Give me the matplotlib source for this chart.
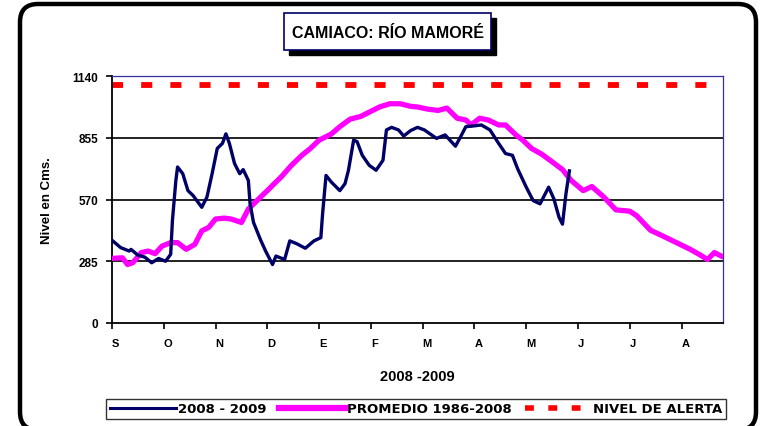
import matplotlib
matplotlib.use("Agg")
import matplotlib.pyplot as plt
from matplotlib.patches import Rectangle, FancyBboxPatch
from matplotlib.lines import Line2D

# datos (dia desde 1 de septiembre, nivel en cm)
dias_0809 = [0, 5, 10, 11, 15, 19, 23, 27, 31, 34, 35, 37, 38, 41, 44, 47, 52, 55,
             58, 61, 64, 66, 68, 71, 74, 76, 79, 80, 82, 86, 89, 93, 95, 100, 103,
             107, 112, 117, 121, 122, 124, 127, 132, 135, 137, 140, 142, 145, 149,
             153, 157, 159, 162, 166, 169, 173, 177, 181, 188, 193, 199, 202, 205,
             210, 214, 219, 224, 228, 232, 235, 240, 244, 248, 253, 256, 259, 261,
             263, 265]
nivel_0809 = [382, 348, 332, 340, 313, 304, 278, 298, 285, 317, 472, 658, 720, 689,
              611, 588, 534, 581, 689, 806, 829, 873, 829, 736, 689, 708, 658, 550,
              464, 385, 332, 270, 309, 293, 379, 366, 345, 379, 394, 503, 681, 651,
              611, 643, 705, 844, 837, 774, 728, 705, 751, 891, 903, 891, 863, 888,
              903, 891, 852, 868, 816, 860, 906, 910, 914, 891, 829, 782, 774, 712,
              627, 565, 550, 627, 573, 488, 456, 596, 702]

dias_prom = [0, 6, 9, 12, 17, 21, 25, 29, 34, 38, 43, 48, 52, 56, 60, 65, 69, 75,
             79, 83, 88, 90, 94, 98, 104, 110, 115, 120, 127, 132, 138, 144, 150,
             155, 161, 167, 173, 177, 183, 189, 194, 200, 205, 208, 213, 218, 224,
             228, 234, 238, 243, 249, 255, 261, 266, 273, 278, 285, 292, 300, 304,
             312, 319, 327, 335, 341, 345, 349, 353]
nivel_prom = [298, 301, 270, 278, 325, 332, 320, 355, 371, 371, 340, 363, 425, 441,
              480, 484, 480, 464, 526, 557, 596, 611, 643, 674, 728, 774, 806, 844,
              872, 906, 941, 953, 977, 997, 1012, 1012, 1000, 997, 987, 981, 992,
              945, 937, 914, 945, 937, 914, 914, 868, 844, 806, 779, 744, 708, 658,
              611, 630, 581, 522, 516, 495, 428, 402, 371, 340, 313, 293, 325, 309]

nivel_alerta = 1100

meses = ["S", "O", "N", "D", "E", "F", "M", "A", "M", "J", "J", "A"]
y_ticks = [0, 285, 570, 855, 1140]

navy = "#000066"
magenta = "#ff00ff"
rojo = "#ff0000"
plt.rcParams["font.family"] = ["Liberation Sans", "DejaVu Sans"]

fig = plt.figure(figsize=(7.65, 4.27), dpi=100)
ax = fig.add_axes([112 / 765, 1 - 324 / 427, 611 / 765, 247 / 427])

# borde redondeado exterior
borde = FancyBboxPatch((20, -4), 736, 426, boxstyle="round,pad=0,rounding_size=18",
                       transform=None, fill=False, ec="black", lw=3.2, zorder=10)
fig.patches.append(borde)

for t in y_ticks[1:-1]:
    ax.axhline(t, color="#222222", lw=1.4, zorder=1)

ax.plot([dias_prom[0], dias_prom[-1]], [nivel_alerta, nivel_alerta], color=rojo,
        lw=4.2, dashes=(1.9, 3.1), solid_capstyle="butt", dash_capstyle="butt", zorder=2)
ax.plot(dias_prom, nivel_prom, color=magenta, lw=3.8, zorder=3,
        solid_joinstyle="round")
ax.plot(dias_0809, nivel_0809, color=navy, lw=2.4, zorder=4,
        solid_joinstyle="round")

ax.set_xlim(0, 354)
ax.set_ylim(0, 1140)
ax.set_yticks(y_ticks)
ax.set_yticklabels([str(v) for v in y_ticks], fontsize=8.5, fontweight="bold")
ax.set_xticks([30 * i for i in range(len(meses))])
ax.set_xticklabels(meses, fontsize=8, fontweight="bold", ha="left")
ax.tick_params(axis="x", length=4, width=1.2, pad=7)
ax.tick_params(axis="y", length=4, width=1.2, pad=6)
for s in ["left", "bottom"]:
    ax.spines[s].set_color("black")
    ax.spines[s].set_linewidth(1.3)
for s in ["top", "right"]:
    ax.spines[s].set_color("#333399")
    ax.spines[s].set_linewidth(0.9)

ax.set_ylabel("Nivel en Cms.", fontsize=9.5, fontweight="bold", labelpad=14)
ax.set_xlabel("2008 -2009", fontsize=10.5, fontweight="bold", labelpad=15)

# titulo en recuadro con sombra
fig.patches.append(Rectangle((289 / 765, 1 - 56 / 427), 207 / 765, 37 / 427,
                             transform=fig.transFigure, color="black", zorder=5))
fig.patches.append(Rectangle((284 / 765, 1 - 51 / 427), 207 / 765, 37 / 427,
                             transform=fig.transFigure, fc="white", ec=navy,
                             lw=1.2, zorder=6))
fig.text(387.5 / 765, 1 - 33 / 427, "CAMIACO: RÍO MAMORÉ", ha="center", va="center",
         fontsize=11.5, fontweight="bold", zorder=7)

handles = [Line2D([], [], color=navy, lw=2.2),
           Line2D([], [], color=magenta, lw=4.5),
           Line2D([], [], color=rojo, lw=4, dashes=(1.6, 2.6))]
etiquetas = ["2008 - 2009", "PROMEDIO 1986-2008", "NIVEL DE ALERTA"]
leg = fig.legend(handles, etiquetas, loc="center", ncol=3,
                 bbox_to_anchor=(416 / 765, 1 - 410 / 427), frameon=True,
                 fancybox=False, edgecolor="black", handlelength=5.0,
                 handletextpad=0.15, columnspacing=1.0, borderpad=0.3,
                 borderaxespad=0,
                 prop={"weight": "bold", "size": 9.5, "family": "DejaVu Sans"})
leg.get_frame().set_linewidth(1.0)

fig.savefig("out.png", dpi=100)
